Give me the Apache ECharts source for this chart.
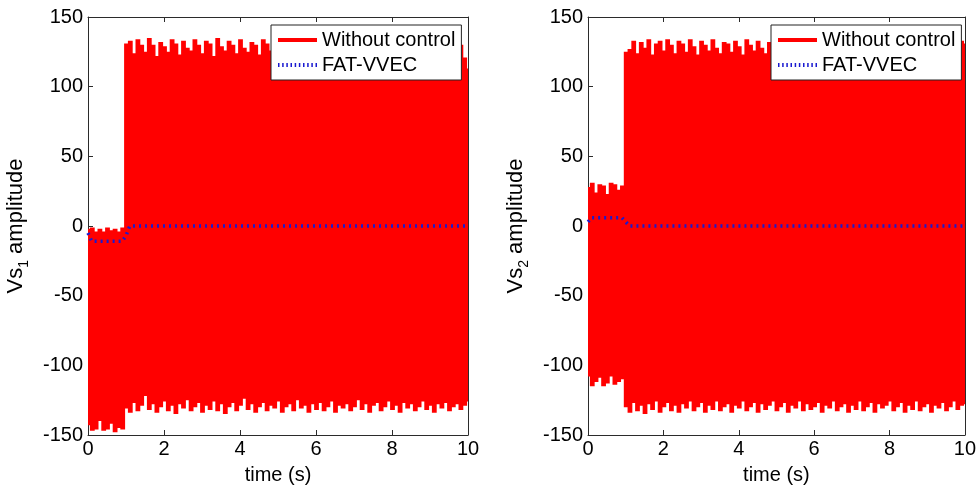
<!DOCTYPE html>
<html>
<head>
<meta charset="utf-8">
<script src="https://cdn.jsdelivr.net/npm/echarts@6/dist/echarts.min.js"></script>
<style>
html,body{margin:0;padding:0;background:#fff;}
#chart{width:979px;height:490px;}
</style>
</head>
<body>
<div id="chart"></div>
<script>
// sampling step of the envelope readings (s)
const sampleStep = 0.1;
const xTicks = [0, 2, 4, 6, 8, 10];
const yTicks = [-150, -100, -50, 0, 50, 100, 150];

// Plot 1 (Vs1): upper and lower envelope of the "Without control" signal
const vs1Upper = [
  -2,-1,-4,-2,-4,-1,-3,-2,-4,-1,
  131,133,124,134,130,125,135,130,122,132,
  129,125,134,131,123,133,128,126,134,130,
  124,133,131,122,135,129,126,133,130,124,
  134,128,125,132,130,123,134,131,126,133,
  129,124,135,130,125,133,128,122,134,131,
  126,133,129,124,134,130,125,135,131,123,
  132,129,126,134,130,124,133,128,125,134,
  131,123,133,129,126,135,130,124,132,128,
  125,134,131,126,133,129,124,132,130,121,
  113
];
const vs1Lower = [
  -143,-147,-146,-140,-147,-146,-142,-148,-145,-146,
  -131,-134,-127,-133,-129,-122,-132,-128,-134,-130,
  -126,-133,-129,-135,-128,-131,-125,-133,-130,-127,
  -134,-129,-132,-126,-133,-128,-135,-130,-127,-133,
  -129,-124,-132,-128,-134,-130,-127,-133,-129,-131,
  -126,-134,-130,-128,-133,-125,-131,-129,-134,-128,
  -132,-127,-133,-130,-126,-134,-129,-131,-128,-133,
  -130,-125,-132,-128,-134,-129,-127,-133,-130,-126,
  -132,-129,-134,-127,-131,-128,-133,-130,-126,-132,
  -129,-134,-128,-131,-127,-133,-130,-128,-132,-129,
  -126
];
// FAT-VVEC (Vs1) breakpoints
const vs1FatTime = [0, 0.1, 0.9, 1.0, 1.1, 10];
const vs1FatVal  = [-5, -11, -11, -7, 0, 0];

// Plot 2 (Vs2)
const vs2Upper = [
  28,31,24,30,29,23,31,30,26,29,
  125,127,133,124,132,128,134,123,131,133,
  126,134,130,124,133,131,125,134,129,123,
  133,130,126,134,128,124,132,131,125,133,
  129,123,134,130,126,133,128,124,132,130,
  125,134,131,123,133,129,126,134,130,124,
  132,128,125,134,131,123,133,130,126,132,
  129,124,134,131,125,133,128,123,132,130,
  126,134,129,124,133,131,125,132,128,124,
  133,130,126,134,129,123,132,131,127,133,
  131
];
const vs2Lower = [
  -108,-115,-112,-109,-115,-113,-108,-114,-112,-110,
  -130,-134,-127,-133,-129,-135,-128,-132,-126,-134,
  -130,-127,-133,-129,-134,-128,-131,-126,-133,-130,
  -127,-134,-129,-132,-126,-133,-130,-128,-134,-129,
  -131,-126,-133,-130,-127,-134,-128,-132,-129,-126,
  -133,-130,-127,-134,-129,-131,-126,-133,-128,-132,
  -130,-127,-134,-129,-131,-126,-133,-130,-128,-134,
  -129,-132,-126,-133,-130,-127,-134,-128,-131,-129,
  -126,-133,-130,-127,-134,-129,-132,-126,-133,-130,
  -128,-134,-129,-131,-127,-133,-130,-126,-132,-129,
  -128
];
const vs2FatTime = [0, 0.1, 0.9, 1.0, 1.1, 10];
const vs2FatVal  = [3, 6, 6, 3, 0, 0];

const seriesNames = ['Without control', 'FAT-VVEC'];
const yNames = ['{a|Vs}{b|1}{a| amplitude}', '{a|Vs}{b|2}{a| amplitude}'];

const FONT = '"Liberation Sans", Arial, sans-serif';
const AX = '#2b2b2b';
const RED = '#ff0000';
const BLUE = '#1a1ad0';

// dotted legend icon (10 short bars across a 39x4 box)
const dottedIcon = 'path://' + [0, 4.17, 8.33, 12.5, 16.67, 20.83, 25, 29.17, 33.33, 37.5]
  .map(x => 'M' + x + ' 0h1.5v4h-1.5z').join('');

const chart = echarts.init(document.getElementById('chart'));

const grids = [
  {left: 88, top: 17, width: 380, height: 427},
  {left: 588, top: 17, width: 380, height: 427}
];

const xAxes = [], yAxes = [], series = [], legends = [];
const plots = [
  {up: vs1Upper, lo: vs1Lower, ft: vs1FatTime, fv: vs1FatVal},
  {up: vs2Upper, lo: vs2Lower, ft: vs2FatTime, fv: vs2FatVal}
];

const halfStep = sampleStep / 2;
function renderEnvelope(params, api) {
  const t = api.value(0), lo = api.value(1), up = api.value(2);
  const p1 = api.coord([t - halfStep, up]);
  const p2 = api.coord([t + halfStep, lo]);
  return {
    type: 'rect',
    shape: {x: p1[0], y: p1[1], width: p2[0] - p1[0] + 1, height: p2[1] - p1[1]},
    style: {fill: RED}
  };
}

plots.forEach((p, g) => {
  const baseX = {
    gridIndex: g, type: 'value', min: xTicks[0], max: xTicks[xTicks.length-1], interval: 2,
    axisLine: {show: true, onZero: false, lineStyle: {color: AX, width: 1}},
    axisTick: {show: true, inside: true, length: 5, lineStyle: {color: AX}},
    splitLine: {show: false}
  };
  xAxes.push(Object.assign({}, baseX, {
    position: 'bottom',
    axisLabel: {show: true, fontSize: 20, color: '#000', fontFamily: FONT, margin: 4},
    name: 'time (s)', nameLocation: 'middle', nameGap: 30,
    nameTextStyle: {fontSize: 20, color: '#000', fontFamily: FONT}
  }));
  xAxes.push(Object.assign({}, baseX, {position: 'top', axisLabel: {show: false}}));
  const baseY = {
    gridIndex: g, type: 'value', min: yTicks[0], max: yTicks[yTicks.length-1], interval: 50,
    axisLine: {show: true, onZero: false, lineStyle: {color: AX, width: 1}},
    axisTick: {show: true, inside: true, length: 5, lineStyle: {color: AX}},
    splitLine: {show: false}
  };
  yAxes.push(Object.assign({}, baseY, {
    position: 'left',
    axisLabel: {show: true, fontSize: 20, color: '#000', fontFamily: FONT, margin: 5},
    name: yNames[g], nameLocation: 'middle', nameGap: 57, nameRotate: 90,
    nameTextStyle: {
      color: '#000', fontFamily: FONT,
      rich: {
        a: {fontSize: 22, lineHeight: 30, color: '#000', fontFamily: FONT},
        b: {fontSize: 14, lineHeight: 15, verticalAlign: 'bottom', color: '#000', fontFamily: FONT}
      }
    }
  }));
  yAxes.push(Object.assign({}, baseY, {position: 'right', axisLabel: {show: false}}));

  const xi = g * 2, yi = g * 2;
  series.push({
    name: seriesNames[0], type: 'custom', xAxisIndex: xi, yAxisIndex: yi,
    renderItem: renderEnvelope, clip: true, silent: true,
    itemStyle: {color: RED},
    encode: {x: 0, y: [1, 2]},
    data: p.up.map((u, i) => [i * sampleStep, p.lo[i], u]), z: 3
  });
  series.push({
    name: seriesNames[1], type: 'line', xAxisIndex: xi, yAxisIndex: yi,
    symbol: 'none', silent: true,
    lineStyle: {color: BLUE, width: 3.5, type: [2, 4]},
    itemStyle: {color: BLUE},
    data: p.ft.map((t, i) => [t, p.fv[i]]), z: 5
  });
  legends.push({
    orient: 'vertical', left: g === 0 ? 271 : 771, top: 25,
    backgroundColor: '#fff', borderColor: '#222', borderWidth: 1,
    padding: [5, 6, 5, 7], itemGap: 5, itemWidth: 39, itemHeight: 4,
    textStyle: {fontSize: 20, color: '#000', fontFamily: FONT, lineHeight: 20},
    selectedMode: false,
    data: [
      {name: seriesNames[0], icon: 'rect', itemStyle: {color: RED}},
      {name: seriesNames[1], icon: dottedIcon, itemStyle: {color: BLUE}}
    ]
  });
});

chart.setOption({
  animation: false,
  backgroundColor: '#fff',
  grid: grids,
  xAxis: xAxes,
  yAxis: yAxes,
  legend: legends,
  series: series
});
</script>
</body>
</html>
